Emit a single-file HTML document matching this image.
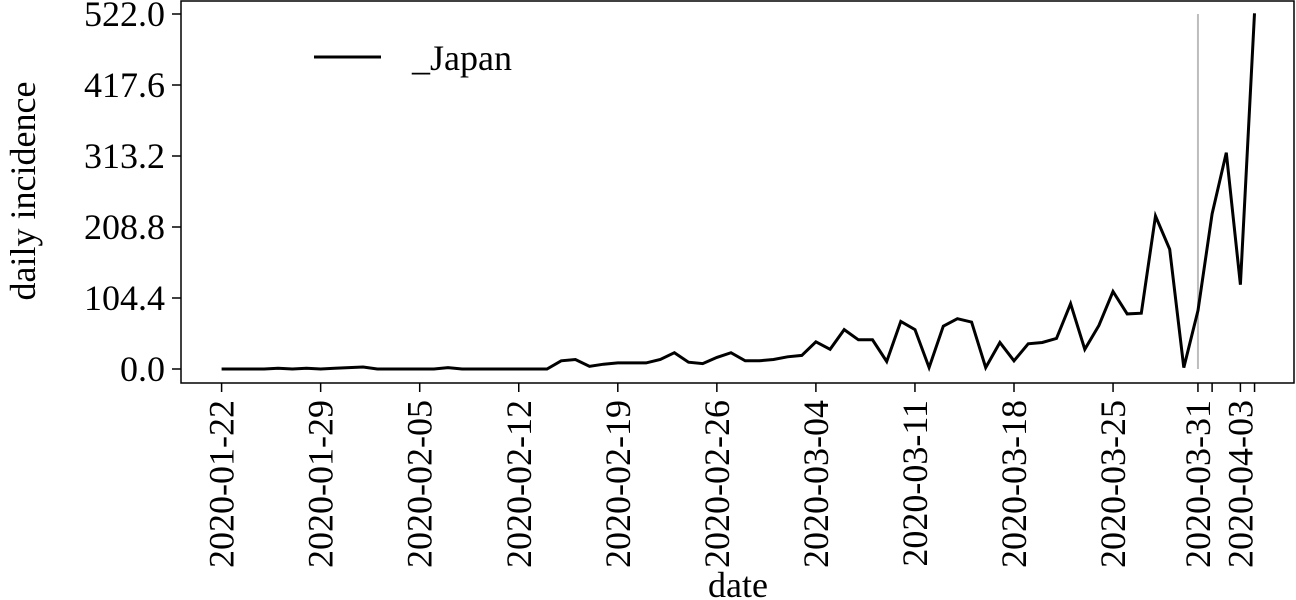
<!DOCTYPE html>
<html><head><meta charset="utf-8"><style>
html,body{margin:0;padding:0;background:#fff;}
svg{display:block;font-family:"Liberation Serif",serif;}
</style></head><body>
<svg id="chart" width="1296" height="600">
<rect x="0" y="0" width="1296" height="600" fill="#fff"/>
<g id="axes"></g>
<g id="plot"></g>
</svg>
<script>
const dayIndex = [];
for (let i = 0; i <= 73; i++) dayIndex.push(i);
const japanValues = [0,0,0,0,1,0,1,0,1,2,3,0,0,0,0,0,2,0,0,0,0,0,0,0,12,14,4,7,9,9,9,14,24,10,8,17,24,12,12,14,18,20,40,29,58,43,43,11,70,58,2,63,74,69,2,39,12,37,39,45,96,29,64,114,81,82,225,176,2,86,228,318,124,523];
const yTickValues = [0.0,104.4,208.8,313.2,417.6,522.0];
const yTickLabels = ["0.0","104.4","208.8","313.2","417.6","522.0"];
const xTickDays = [0,7,14,21,28,35,42,49,56,63,69,70,72,73];
const xTickLabels = ["2020-01-22","2020-01-29","2020-02-05","2020-02-12","2020-02-19","2020-02-26","2020-03-04","2020-03-11","2020-03-18","2020-03-25","2020-03-31","","2020-04-03",""];
const markerDay = [69];
const yMax = 522;

const NS = "http://www.w3.org/2000/svg";
const FS = 36;
const xS = d => 221.6 + d * 14.15;
const yS = v => 369 - v * (355 / yMax);
function mk(tag, attrs, parent, txt) {
  const e = document.createElementNS(NS, tag);
  for (const k in attrs) e.setAttribute(k, attrs[k]);
  if (txt !== undefined) e.textContent = txt;
  parent.appendChild(e);
  return e;
}
const axes = document.getElementById('axes');
const plot = document.getElementById('plot');

const frame = mk('rect', {x:181, y:1, width:1113, height:382, fill:'none', stroke:'#000', 'stroke-width':1.5}, axes);



yTickValues.forEach((v, i) => {
  const y = yS(v);
  const t = mk('line', {x1:172, x2:181, y1:y, y2:y, stroke:'#000', 'stroke-width':1.5}, axes);
  
  
  const l = mk('text', {x:165, y:y + 12, 'text-anchor':'end', 'font-size':FS}, axes, yTickLabels[i]);
  
  
});

xTickDays.forEach((d, i) => {
  const x = xS(d);
  const t = mk('line', {x1:x, x2:x, y1:383, y2:392, stroke:'#000', 'stroke-width':1.5}, axes);
  
  
  if (xTickLabels[i]) {
    const l = mk('text', {x:0, y:0, 'text-anchor':'end', 'font-size':FS, transform:'translate(' + (x + 12) + ',400) rotate(-90)'}, axes, xTickLabels[i]);
    
    
  }
});

const yt = mk('text', {x:0, y:0, 'text-anchor':'middle', 'font-size':FS, transform:'translate(35,191) rotate(-90)'}, axes, 'daily incidence');


const xt = mk('text', {x:738, y:597, 'text-anchor':'middle', 'font-size':FS}, axes, 'date');



markerDay.forEach(d => {
  const m = mk('line', {x1:xS(d), x2:xS(d), y1:yS(yMax), y2:yS(0), stroke:'#bdbdbd', 'stroke-width':2}, plot);
  
  
});

const pts = japanValues.map((v, i) => xS(dayIndex[i]).toFixed(1) + ',' + yS(v).toFixed(1)).join(' ');
const line = mk('polyline', {points:pts, fill:'none', stroke:'#000', 'stroke-width':3, 'stroke-linejoin':'miter'}, plot);



const lg = mk('g', {}, plot);


const ll = mk('line', {x1:314, x2:381, y1:57, y2:57, stroke:'#000', 'stroke-width':3}, lg);


const lt = mk('text', {x:412, y:70, 'font-size':FS}, lg, '_Japan');


</script>
</body></html>
